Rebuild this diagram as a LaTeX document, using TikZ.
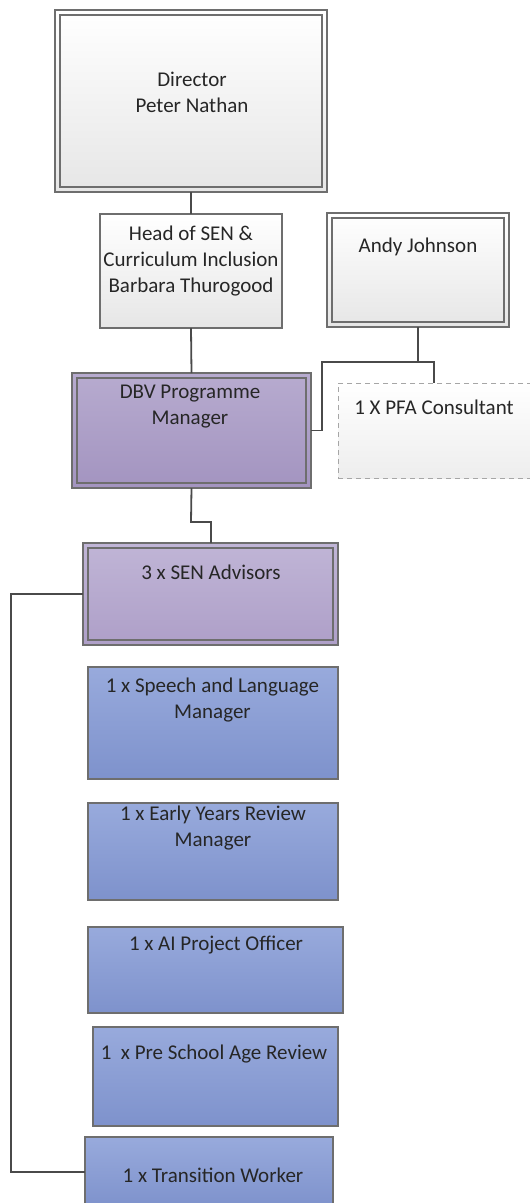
\documentclass[tikz,border=0pt]{standalone}
\usepackage{fontspec}
\setmainfont{Carlito}
\definecolor{edge}{HTML}{6E6E6E}
\definecolor{wire}{HTML}{4A4A4A}
\definecolor{ink}{HTML}{262626}
\definecolor{greytop}{HTML}{FFFFFF}
\definecolor{greybot}{HTML}{E6E6E6}
\definecolor{purptop}{HTML}{B7ABCF}
\definecolor{purpbot}{HTML}{A394C0}
\definecolor{lpurptop}{HTML}{C0B5D6}
\definecolor{lpurpbot}{HTML}{AE9FC8}
\definecolor{bluetop}{HTML}{98AADC}
\definecolor{bluebot}{HTML}{7E92CC}
\tikzset{
  box/.style={rectangle, draw=edge, line width=1.4pt, inner sep=0pt, outer sep=0pt},
  greybox/.style={box, top color=greytop, bottom color=greybot},
  purpbox/.style={box, top color=purptop, bottom color=purpbot},
  lpurpbox/.style={box, top color=lpurptop, bottom color=lpurpbot},
  bluebox/.style={box, top color=bluetop, bottom color=bluebot},
  dashbox/.style={rectangle, draw=gray!70, line width=0.9pt, dash pattern=on 5pt off 4pt, top color=white, bottom color=greybot!70, inner sep=0pt},
  innerline/.style={draw=edge, line width=1.4pt},
  txt/.style={font=\fontsize{21}{26}\selectfont, text=ink, align=center, inner sep=0pt},
  wirestyle/.style={draw=wire, line width=1.8pt}
}
\newcommand{\innerframe}[1]{%
  \draw[innerline] ([shift={(5,5)}]#1.north west) rectangle ([shift={(-5,-5)}]#1.south east);}
\begin{document}
\begin{tikzpicture}[x=1pt,y=-1pt]
\useasboundingbox (0,0) rectangle (530,1203);
\clip (0,0) rectangle (530,1203);
% boxes
\node[greybox, minimum width=272pt, minimum height=182pt] (dir) at (191,101) {};
\innerframe{dir}
\node[greybox, minimum width=182pt, minimum height=114pt] (head) at (191,271) {};
\node[greybox, minimum width=182pt, minimum height=114pt] (andy) at (418,270) {};
\innerframe{andy}
\node[purpbox, minimum width=239pt, minimum height=115pt] (dbv) at (191.5,430.5) {};
\innerframe{dbv}
\node[dashbox, minimum width=207pt, minimum height=95pt] (pfa) at (441.5,430.5) {};
\node[lpurpbox, minimum width=255pt, minimum height=102pt] (sen) at (210.5,594) {};
\innerframe{sen}
\node[bluebox, minimum width=250pt, minimum height=112pt] (sp) at (213,723) {};
\node[bluebox, minimum width=250pt, minimum height=97pt] (ey) at (213,851.5) {};
\node[bluebox, minimum width=255pt, minimum height=86pt] (ai) at (215.5,970) {};
\node[bluebox, minimum width=245pt, minimum height=99pt] (ps) at (215.5,1076.5) {};
\node[bluebox, minimum width=248pt, minimum height=70pt] (tw) at (209,1172) {};
% texts
\node[txt] (tdir) at (192,92) {Director\\Peter Nathan};
\node[txt] (thead) at (191,261) {Head of SEN \&\\Curriculum Inclusion\\Barbara Thurogood};
\node[txt] (tandy) at (418,247) {Andy Johnson};
\node[txt] (tdbv) at (190,407) {DBV Programme\\Manager};
\node[txt] (tpfa) at (434,407) {1 X PFA Consultant};
\node[txt] (tsen) at (211,572) {3 x SEN Advisors};
\node[txt] (tsp) at (212.5,700) {1 x Speech and Language\\Manager};
\node[txt] (tey) at (213,828) {1 x Early Years Review\\Manager};
\node[txt] (tai) at (216,945) {1 x AI Project Officer};
\node[txt] (tps) at (214,1054) {1\ \ x Pre School Age Review};
\node[txt] (ttw) at (213,1175) {1 x Transition Worker};
% connectors
\coordinate (j1) at (418,362);
\coordinate (j2) at (322,362);
\coordinate (j3) at (434,362);
\coordinate (b1) at (191,522);
\coordinate (b2) at (211,522);
\coordinate (l1) at (11,594);
\draw[wirestyle] (dir.south) -- (head.north);
\draw[wirestyle] (head.south) -- (dbv.north);
\draw[wirestyle] (andy.south) -- (j1);
\draw[wirestyle] (dbv.east) -| (j2) -- (j3) -- (j3 |- pfa.north);
\draw[wirestyle] (dbv.south) -- (b1) -- (b2) -- (b2 |- sen.north);
\draw[wirestyle] (sen.west) -- (l1) |- (tw.west);
\end{tikzpicture}
\end{document}
